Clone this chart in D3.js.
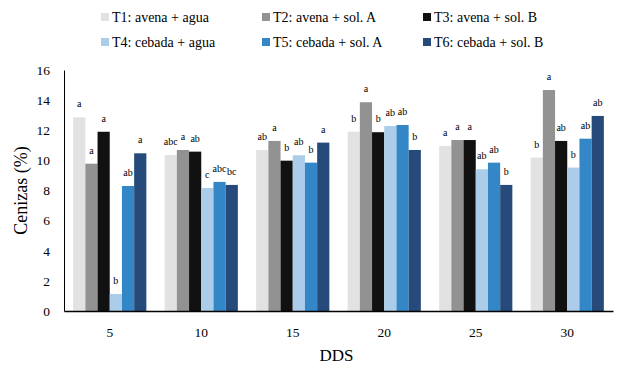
<!DOCTYPE html>
<html>
<head>
<meta charset="utf-8">
<script src="https://cdn.jsdelivr.net/npm/d3@7"></script>
<style>
  body { margin: 0; background: #fff; }
</style>
</head>
<body>
<div id="chart"></div>
<script>
// data
let days = ["5", "10", "15", "20", "25", "30"]
let treatments = ["T1: avena + agua", "T2: avena + sol. A", "T3: avena + sol. B",
                  "T4: cebada + agua", "T5: cebada + sol. A", "T6: cebada + sol. B"]
let colors = ["#e2e2e2", "#929292", "#111111", "#abcdea", "#3487c7", "#264b7a"]

// one array per treatment, values for 5..30 DDS
let t1 = [12.86, 10.36, 10.69, 11.90, 10.96, 10.18]
let t2 = [9.78, 10.69, 11.29, 13.86, 11.35, 14.67]
let t3 = [11.90, 10.58, 9.98, 11.87, 11.35, 11.29]
let t4 = [1.13, 8.17, 10.34, 12.28, 9.41, 9.52]
let t5 = [8.30, 8.57, 9.85, 12.35, 9.85, 11.44]
let t6 = [10.47, 8.37, 11.18, 10.69, 8.37, 12.95]

// significance letters, same layout
let l1 = ["a", "abc", "ab", "b", "a", "b"]
let l2 = ["a", "a", "a", "a", "a", "a"]
let l3 = ["a", "ab", "b", "b", "a", "ab"]
let l4 = ["b", "c", "ab", "ab", "ab", "b"]
let l5 = ["ab", "abc", "b", "ab", "ab", "ab"]
let l6 = ["a", "bc", "a", "b", "b", "ab"]

let yTicks = [0, 2, 4, 6, 8, 10, 12, 14, 16]

let series = [t1, t2, t3, t4, t5, t6]
let letters = [l1, l2, l3, l4, l5, l6]

let serif = "'Liberation Serif', 'Times New Roman', serif"

let width = 622, height = 368
let margin = { top: 70, right: 9, bottom: 57, left: 64 }
let innerW = width - margin.left - margin.right,
    innerH = height - margin.top - margin.bottom

let svg = d3.select("#chart").append("svg")
    .attr("width", width)
    .attr("height", height)
    .attr("font-family", serif)

let g = svg.append("g")
    .attr("transform", "translate(" + margin.left + "," + margin.top + ")")

let x0 = d3.scaleBand().domain(days).range([0, innerW]).paddingInner(0.2).paddingOuter(0.1)
let x1 = d3.scaleBand().domain(d3.range(treatments.length)).range([0, x0.bandwidth()])
let y = d3.scaleLinear().domain([0, 16]).range([innerH, 0])

let rows = []
days.forEach(function(d, i) {
    series.forEach(function(s, j) {
        rows.push({ day: d, t: j, value: s[i], letter: letters[j][i] })
    })
})

g.selectAll("rect.bar")
    .data(rows)
    .enter()
    .append("rect")
    .attr("class", "bar")
    .attr("x", function(d) { return x0(d.day) + x1(d.t) })
    .attr("width", x1.bandwidth())
    .attr("y", function(d) { return y(d.value) })
    .attr("height", function(d) { return innerH - y(d.value) })
    .attr("fill", function(d) { return colors[d.t] })

g.selectAll("text.sig")
    .data(rows)
    .enter()
    .append("text")
    .attr("class", "sig")
    .attr("x", function(d) { return x0(d.day) + x1(d.t) + x1.bandwidth() / 2 })
    .attr("y", function(d) { return y(d.value) - 10 })
    .attr("text-anchor", "middle")
    .style("font-family", serif)
    .style("font-size", "10px")
    .attr("fill", "#000")
    .text(function(d) { return d.letter })

// axes
let yAxis = g.append("g")
    .call(d3.axisLeft(y).tickValues(yTicks).tickSize(0).tickPadding(14))
yAxis.attr("font-family", serif)
yAxis.select(".domain").attr("stroke", "#000")
yAxis.selectAll("text").style("font-family", serif).style("font-size", "13.5px").attr("fill", "#000")

let xAxis = g.append("g")
    .attr("transform", "translate(0," + innerH + ")")
    .call(d3.axisBottom(x0).tickSize(0).tickPadding(16))
xAxis.attr("font-family", serif)
xAxis.select(".domain").attr("stroke", "#000").attr("stroke-width", 1.3)
xAxis.selectAll("text").style("font-family", serif).style("font-size", "13.5px").attr("fill", "#000")

svg.append("text")
    .attr("transform", "translate(27," + (margin.top + innerH / 2) + ")rotate(-90)")
    .attr("text-anchor", "middle")
    .style("font-family", serif)
    .style("font-size", "18px")
    .text("Cenizas (%)")

svg.append("text")
    .attr("x", margin.left + innerW / 2 - 2)
    .attr("y", 361)
    .attr("text-anchor", "middle")
    .style("font-family", serif)
    .style("font-size", "17px")
    .text("DDS")

// legend, 3 columns x 2 rows
let legend = svg.append("g")
let legendItem = legend.selectAll("g")
    .data(treatments)
    .enter()
    .append("g")
    .attr("transform", function(d, i) {
        return "translate(" + (101 + (i % 3) * 161) + "," + (17 + Math.floor(i / 3) * 25) + ")"
    })
legendItem.append("rect")
    .attr("x", 0).attr("y", -4)
    .attr("width", 8).attr("height", 8)
    .attr("fill", function(d, i) { return colors[i] })
legendItem.append("text")
    .attr("x", 11)
    .attr("dy", "0.35em")
    .style("font-family", serif)
    .style("font-size", "14px")
    .text(function(d) { return d })
</script>
</body>
</html>
